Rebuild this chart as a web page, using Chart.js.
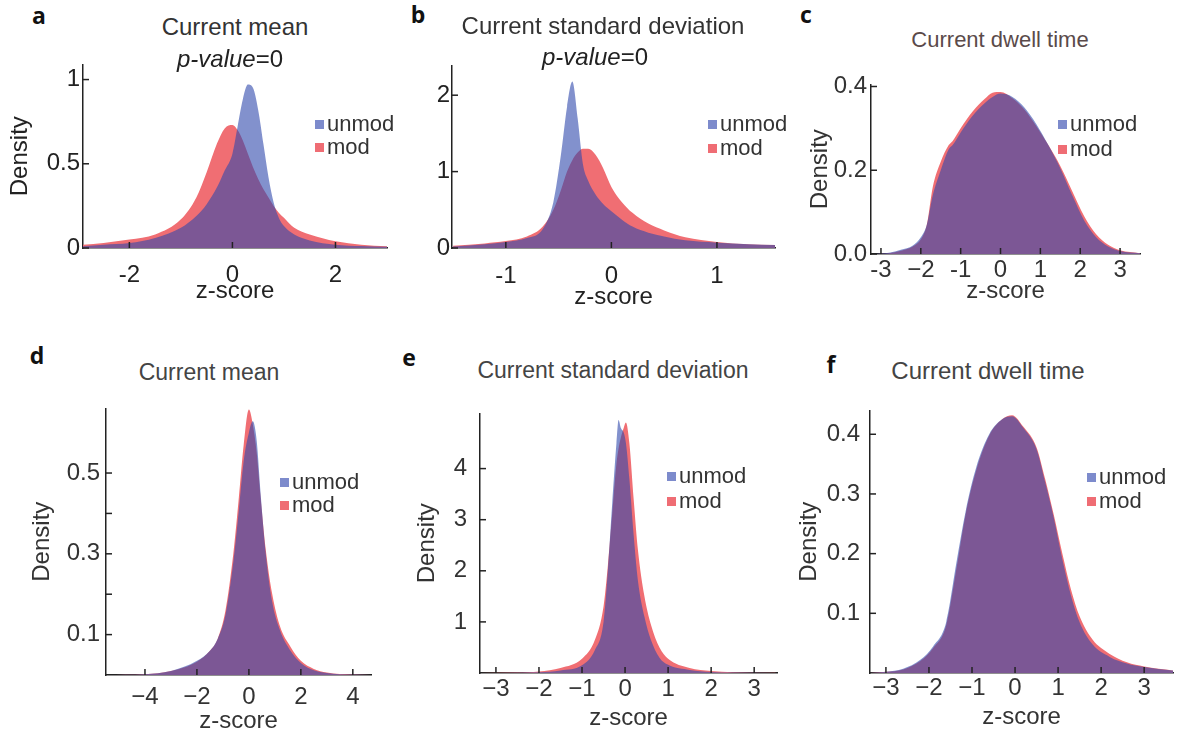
<!DOCTYPE html>
<html>
<head>
<meta charset="utf-8">
<script src="https://cdn.jsdelivr.net/npm/chart.js@4.4.0/dist/chart.umd.min.js"></script>
<style>
body{margin:0;width:1182px;height:733px;background:#fff;position:relative;overflow:hidden;font-family:"Liberation Sans",Arial,sans-serif}
canvas{position:absolute}
.t{position:absolute;white-space:nowrap;line-height:1;transform:translate(-50%,-50%)}
.letter{font-weight:bold;font-size:23px;color:#111;font-family:"Open Sans","Liberation Sans",sans-serif}
.leg{position:absolute;display:flex;align-items:center;font-size:22px;color:#333;line-height:1;transform:translateY(-50%)}
.sw{display:inline-block;width:9px;height:9px;margin-right:3px}
</style>
</head>
<body>
<script>
// panel a - current mean
const aX=[-2.9,-2.5,-2,-1.5,-1,-0.7,-0.5,-0.3,-0.15,0,0.1,0.2,0.3,0.4,0.5,0.6,0.7,0.8,0.9,1.0,1.2,1.5,2,2.5,3]
const aUnmod=[0.01,0.02,0.03,0.06,0.12,0.19,0.26,0.36,0.46,0.56,0.72,0.88,0.97,0.95,0.82,0.62,0.42,0.27,0.18,0.13,0.08,0.045,0.02,0.012,0.008]
const aMod=[0.02,0.03,0.05,0.08,0.17,0.3,0.45,0.62,0.71,0.73,0.7,0.64,0.56,0.48,0.41,0.35,0.3,0.25,0.21,0.18,0.12,0.08,0.04,0.02,0.01]
const aXTicks=[-2,0,2], aXLabels=['-2','0','2']
const aYTicks=[0,0.5,1], aYLabels=['0','0.5','1']

// panel b - current standard deviation
const bX=[-1.5,-1.2,-1,-0.8,-0.65,-0.55,-0.48,-0.42,-0.37,-0.32,-0.27,-0.22,-0.15,-0.08,0,0.1,0.2,0.35,0.5,0.7,1,1.3,1.55]
const bUnmod=[0.02,0.05,0.08,0.13,0.25,0.6,1.2,1.85,2.18,1.7,1.1,0.88,0.7,0.58,0.48,0.37,0.28,0.2,0.15,0.1,0.07,0.05,0.04]
const bMod=[0.03,0.06,0.09,0.15,0.28,0.5,0.75,1.0,1.15,1.25,1.3,1.3,1.22,1.05,0.8,0.6,0.46,0.32,0.23,0.14,0.08,0.05,0.04]
const bXTicks=[-1,0,1], bXLabels=['-1','0','1']
const bYTicks=[0,1,2], bYLabels=['0','1','2']

// panel c - current dwell time
const cX=[-3.2,-2.8,-2.5,-2.2,-2,-1.85,-1.7,-1.5,-1.3,-1.2,-1,-0.7,-0.4,-0.2,0,0.3,0.6,0.9,1.2,1.5,1.8,2.1,2.4,2.7,3,3.5]
const cUnmod=[0,0.003,0.01,0.02,0.04,0.07,0.14,0.2,0.25,0.26,0.29,0.33,0.36,0.375,0.383,0.375,0.35,0.31,0.26,0.205,0.14,0.08,0.04,0.018,0.007,0.002]
const cMod=[0,0.002,0.008,0.018,0.035,0.07,0.16,0.22,0.26,0.27,0.3,0.34,0.37,0.385,0.387,0.372,0.345,0.305,0.26,0.21,0.15,0.09,0.047,0.022,0.009,0.002]
const cXTicks=[-3,-2,-1,0,1,2,3], cXLabels=['-3','\u22122','-1','0','1','2','3']
const cYTicks=[0,0.2,0.4], cYLabels=['0.0','0.2','0.4']

// panel d - current mean
const dX=[-5.5,-4,-3,-2,-1.5,-1.2,-0.9,-0.6,-0.4,-0.2,0,0.15,0.3,0.45,0.65,0.9,1.2,1.6,2,2.5,3,4,4.7]
const dUnmod=[0,0.002,0.01,0.035,0.06,0.09,0.15,0.28,0.4,0.53,0.6,0.628,0.58,0.45,0.3,0.18,0.11,0.06,0.03,0.012,0.005,0.001,0]
const dMod=[0,0.002,0.01,0.033,0.06,0.09,0.16,0.3,0.43,0.57,0.657,0.62,0.55,0.44,0.31,0.2,0.12,0.07,0.035,0.015,0.006,0.001,0]
const dXTicks=[-4,-2,0,2,4], dXLabels=['\u22124','\u22122','0','2','4']
const dYTicks=[0.1,0.2,0.3,0.4,0.5], dYLabels=['0.1','','0.3','','0.5']

// panel e - current standard deviation
const eX=[-3.4,-2.5,-2,-1.5,-1,-0.7,-0.5,-0.4,-0.3,-0.2,-0.15,-0.1,-0.03,0.02,0.1,0.2,0.3,0.45,0.6,0.8,1,1.5,2,2.5,3.5]
const eUnmod=[0,0.005,0.015,0.05,0.15,0.45,1.0,2.0,3.3,4.5,4.95,4.8,4.7,4.5,3.8,2.7,1.8,1.1,0.65,0.3,0.16,0.06,0.02,0.008,0.002]
const eMod=[0,0.008,0.03,0.1,0.28,0.65,1.3,2.1,3.1,4.1,4.4,4.6,4.8,4.9,4.5,3.4,2.4,1.5,0.95,0.5,0.28,0.1,0.04,0.015,0.003]
const eXTicks=[-3,-2,-1,0,1,2,3], eXLabels=['\u22123','\u22122','\u22121','0','1','2','3']
const eYTicks=[1,2,3,4], eYLabels=['1','2','3','4']

// panel f - current dwell time
const fX=[-3.4,-3,-2.6,-2.2,-1.9,-1.6,-1.35,-1.15,-0.9,-0.6,-0.3,-0.07,0.2,0.5,0.7,0.9,1.1,1.3,1.5,1.8,2.2,2.6,3,3.7]
const fUnmod=[0,0.002,0.007,0.022,0.045,0.085,0.19,0.27,0.345,0.4,0.425,0.43,0.41,0.375,0.32,0.26,0.19,0.13,0.085,0.048,0.027,0.016,0.01,0.004]
const fMod=[0,0.002,0.006,0.02,0.042,0.08,0.18,0.265,0.34,0.398,0.425,0.432,0.412,0.378,0.325,0.265,0.2,0.14,0.095,0.056,0.032,0.018,0.011,0.004]
const fXTicks=[-3,-2,-1,0,1,2,3], fXLabels=['\u22123','\u22122','\u22121','0','1','2','3']
const fYTicks=[0.1,0.2,0.3,0.4], fYLabels=['0.1','0.2','0.3','0.4']

const BLUE='rgba(47,72,172,0.6)'
const RED='rgb(240,110,115)'
const BLUE_KEY='#7d8bcc'
const RED_KEY='#ef6d74'

// layout: area = chart area [left, top, right, bottom] on the page
const panels=[
  {x:aX,unmod:aUnmod,mod:aMod,xt:aXTicks,xl:aXLabels,yt:aYTicks,yl:aYLabels,xmin:-2.9,xmax:3.0,ymax:1.09,
   area:[83,61,387,248],yw:81,xh:62,xpad:14,ypad:3,ytitle:true,ink:'#222',
   letter:['a',39,15],title:['Current mean',235,27,24,'#333'],pval:[230,59],leg:[315,124,147]},
  {x:bX,unmod:bUnmod,mod:bMod,xt:bXTicks,xl:bXLabels,yt:bYTicks,yl:bYLabels,xmin:-1.51,xmax:1.55,ymax:2.39,
   area:[452,63,775,248],yw:70,xh:68,xpad:15,ypad:2,ytitle:false,ink:'#222',
   letter:['b',418,14],title:['Current standard deviation',603,26,24,'#333'],pval:[595,57],leg:[708,124,148]},
  {x:cX,unmod:cUnmod,mod:cMod,xt:cXTicks,xl:cXLabels,yt:cYTicks,yl:cYLabels,xmin:-3.25,xmax:3.5,ymax:0.405,
   area:[871,80,1140,254],yw:69,xh:56,xpad:3,ypad:4,ytitle:true,ink:'#333',
   letter:['c',806,14],title:['Current dwell time',1000,40,22,'#5a4a4a'],leg:[1058,124,149]},
  {x:dX,unmod:dUnmod,mod:dMod,xt:dXTicks,xl:dXLabels,yt:dYTicks,yl:dYLabels,xmin:-5.5,xmax:4.7,ymax:0.66,
   area:[106,402,371,675],yw:82,xh:65,xpad:9,ypad:6,ytitle:true,ink:'#333',
   letter:['d',37,355],title:['Current mean',209,372,23,'#444'],leg:[280,482,505]},
  {x:eX,unmod:eUnmod,mod:eMod,xt:eXTicks,xl:eXLabels,yt:eYTicks,yl:eYLabels,xmin:-3.37,xmax:3.53,ymax:5.08,
   area:[480,400,777,673],yw:71,xh:64,xpad:3,ypad:13,ytitle:true,ink:'#333',
   letter:['e',409,357],title:['Current standard deviation',613,370,23,'#444'],leg:[667,476,501]},
  {x:fX,unmod:fUnmod,mod:fMod,xt:fXTicks,xl:fXLabels,yt:fYTicks,yl:fYLabels,xmin:-3.37,xmax:3.67,ymax:0.44,
   area:[870,400,1173,673],yw:79,xh:63,xpad:2,ypad:10,ytitle:true,ink:'#333',
   letter:['f',831,364],title:['Current dwell time',988,371,24,'#444'],leg:[1087,477,501]}
]

const PAD_T=14, PAD_R=6

// short tick marks pointing into the plot, drawn over the fills
const innerTicks={
  id:'innerTicks',
  afterDatasetsDraw(chart){
    const {ctx,scales:{x,y}}=chart
    ctx.save()
    ctx.strokeStyle='#222'
    ctx.lineWidth=1.5
    x.ticks.forEach(t=>{
      const px=x.getPixelForValue(t.value)
      ctx.beginPath();ctx.moveTo(px,y.bottom);ctx.lineTo(px,y.bottom-6);ctx.stroke()
    })
    y.ticks.forEach(t=>{
      const py=y.getPixelForValue(t.value)
      ctx.beginPath();ctx.moveTo(x.left,py);ctx.lineTo(x.left+6,py);ctx.stroke()
    })
    ctx.restore()
  }
}

function addText(html,cls,x,y,style){
  const d=document.createElement('div')
  d.className=cls
  d.innerHTML=html
  d.style.left=x+'px'
  d.style.top=y+'px'
  if(style) Object.assign(d.style,style)
  document.body.appendChild(d)
}

function legendRow(color,label,x,y){
  const d=document.createElement('div')
  d.className='leg'
  d.style.left=x+'px'
  d.style.top=y+'px'
  d.innerHTML=`<span class="sw" style="background:${color}"></span>${label}`
  document.body.appendChild(d)
}

panels.forEach(p=>{
  const [al,at,ar,ab]=p.area
  const left=al-p.yw, top=at-PAD_T
  const w=ar-left+PAD_R, h=ab-top+p.xh
  const cv=document.createElement('canvas')
  cv.width=w; cv.height=h
  cv.style.left=left+'px'; cv.style.top=top+'px'
  cv.style.width=w+'px'; cv.style.height=h+'px'
  document.body.appendChild(cv)

  const tickFont={family:'"Liberation Sans", Arial, sans-serif',size:24}
  const titleFont={family:'"Liberation Sans", Arial, sans-serif',size:24}

  new Chart(cv,{
    type:'line',
    data:{
      datasets:[
        {label:'unmod',data:p.x.map((v,i)=>({x:v,y:p.unmod[i]})),backgroundColor:BLUE,fill:'origin',
         borderWidth:0,pointRadius:0,cubicInterpolationMode:'monotone'},
        {label:'mod',data:p.x.map((v,i)=>({x:v,y:p.mod[i]})),backgroundColor:RED,fill:'origin',
         borderWidth:0,pointRadius:0,cubicInterpolationMode:'monotone'}
      ]
    },
    plugins:[innerTicks],
    options:{
      responsive:false,
      animation:false,
      events:[],
      layout:{padding:{top:PAD_T,right:PAD_R,left:0,bottom:0}},
      plugins:{legend:{display:false},tooltip:{enabled:false}},
      scales:{
        x:{
          type:'linear',min:p.xmin,max:p.xmax,
          afterFit(s){s.height=p.xh},
          afterBuildTicks(s){s.ticks=p.xt.map(v=>({value:v}))},
          ticks:{callback:v=>p.xl[p.xt.indexOf(v)],font:tickFont,color:p.ink,padding:p.xpad-1,autoSkip:false,maxRotation:0},
          grid:{display:false,drawTicks:false},
          border:{color:'#222',width:1.5},
          title:{display:true,text:'z-score',font:titleFont,color:p.ink,padding:{top:0,bottom:4}}
        },
        y:{
          type:'linear',min:0,max:p.ymax,
          afterFit(s){s.width=p.yw},
          afterBuildTicks(s){s.ticks=p.yt.map(v=>({value:v}))},
          ticks:{callback:v=>p.yl[p.yt.indexOf(v)],font:tickFont,color:p.ink,padding:p.ypad,autoSkip:false},
          grid:{display:false,drawTicks:false},
          border:{color:'#222',width:1.5},
          title:{display:p.ytitle,text:'Density',font:titleFont,color:p.ink,padding:{top:4,bottom:0}}
        }
      }
    }
  })

  addText(p.letter[0],'t letter',p.letter[1],p.letter[2])
  addText(p.title[0],'t',p.title[1],p.title[2],{fontSize:p.title[3]+'px',color:p.title[4]})
  if(p.pval) addText('<i>p-value</i>=0','t',p.pval[0],p.pval[1],{fontSize:'24px',color:'#222'})
  legendRow(BLUE_KEY,'unmod',p.leg[0],p.leg[1])
  legendRow(RED_KEY,'mod',p.leg[0],p.leg[2])
})
</script>
</body>
</html>
